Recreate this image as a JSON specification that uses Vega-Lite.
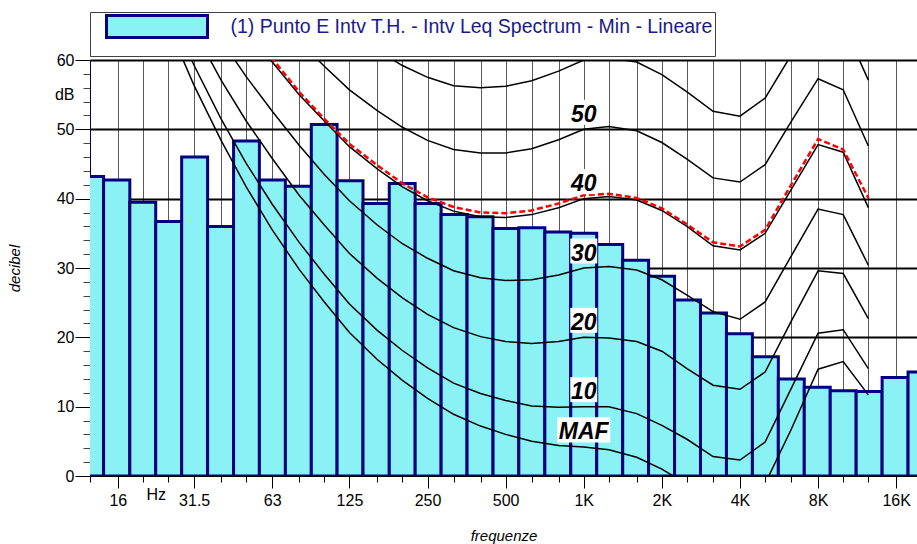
{
  "$schema": "https://vega.github.io/schema/vega-lite/v6.json",
  "width": 827,
  "height": 416,
  "autosize": {"type": "none"},
  "padding": {"left": 90, "top": 60, "right": 0, "bottom": 68},
  "background": "white",
  "config": {"view": {"stroke": null}, "font": "Liberation Sans"},
  "datasets": {
    "spectrum": [
      {"series": "(1) Punto E Intv T.H. - Intv Leq Spectrum - Min - Lineare", "f": 12.5, "lo": 11.2, "hi": 14.1, "leq": 43.2},
      {"series": "(1) Punto E Intv T.H. - Intv Leq Spectrum - Min - Lineare", "f": 16, "lo": 14.1, "hi": 17.8, "leq": 42.7},
      {"series": "(1) Punto E Intv T.H. - Intv Leq Spectrum - Min - Lineare", "f": 20, "lo": 17.8, "hi": 22.4, "leq": 39.5},
      {"series": "(1) Punto E Intv T.H. - Intv Leq Spectrum - Min - Lineare", "f": 25, "lo": 22.4, "hi": 28.2, "leq": 36.7},
      {"series": "(1) Punto E Intv T.H. - Intv Leq Spectrum - Min - Lineare", "f": 31.5, "lo": 28.2, "hi": 35.5, "leq": 46.0},
      {"series": "(1) Punto E Intv T.H. - Intv Leq Spectrum - Min - Lineare", "f": 40, "lo": 35.5, "hi": 44.7, "leq": 36.0},
      {"series": "(1) Punto E Intv T.H. - Intv Leq Spectrum - Min - Lineare", "f": 50, "lo": 44.7, "hi": 56.2, "leq": 48.3},
      {"series": "(1) Punto E Intv T.H. - Intv Leq Spectrum - Min - Lineare", "f": 63, "lo": 56.2, "hi": 70.8, "leq": 42.7},
      {"series": "(1) Punto E Intv T.H. - Intv Leq Spectrum - Min - Lineare", "f": 80, "lo": 70.8, "hi": 89.1, "leq": 41.8},
      {"series": "(1) Punto E Intv T.H. - Intv Leq Spectrum - Min - Lineare", "f": 100, "lo": 89.1, "hi": 112, "leq": 50.7},
      {"series": "(1) Punto E Intv T.H. - Intv Leq Spectrum - Min - Lineare", "f": 125, "lo": 112, "hi": 141, "leq": 42.6},
      {"series": "(1) Punto E Intv T.H. - Intv Leq Spectrum - Min - Lineare", "f": 160, "lo": 141, "hi": 178, "leq": 39.3},
      {"series": "(1) Punto E Intv T.H. - Intv Leq Spectrum - Min - Lineare", "f": 200, "lo": 178, "hi": 224, "leq": 42.2},
      {"series": "(1) Punto E Intv T.H. - Intv Leq Spectrum - Min - Lineare", "f": 250, "lo": 224, "hi": 282, "leq": 39.3},
      {"series": "(1) Punto E Intv T.H. - Intv Leq Spectrum - Min - Lineare", "f": 315, "lo": 282, "hi": 355, "leq": 37.7},
      {"series": "(1) Punto E Intv T.H. - Intv Leq Spectrum - Min - Lineare", "f": 400, "lo": 355, "hi": 447, "leq": 37.4},
      {"series": "(1) Punto E Intv T.H. - Intv Leq Spectrum - Min - Lineare", "f": 500, "lo": 447, "hi": 562, "leq": 35.7},
      {"series": "(1) Punto E Intv T.H. - Intv Leq Spectrum - Min - Lineare", "f": 630, "lo": 562, "hi": 708, "leq": 35.8},
      {"series": "(1) Punto E Intv T.H. - Intv Leq Spectrum - Min - Lineare", "f": 800, "lo": 708, "hi": 891, "leq": 35.2},
      {"series": "(1) Punto E Intv T.H. - Intv Leq Spectrum - Min - Lineare", "f": 1000, "lo": 891, "hi": 1122, "leq": 35.0},
      {"series": "(1) Punto E Intv T.H. - Intv Leq Spectrum - Min - Lineare", "f": 1250, "lo": 1122, "hi": 1413, "leq": 33.4},
      {"series": "(1) Punto E Intv T.H. - Intv Leq Spectrum - Min - Lineare", "f": 1600, "lo": 1413, "hi": 1778, "leq": 31.1},
      {"series": "(1) Punto E Intv T.H. - Intv Leq Spectrum - Min - Lineare", "f": 2000, "lo": 1778, "hi": 2239, "leq": 28.8},
      {"series": "(1) Punto E Intv T.H. - Intv Leq Spectrum - Min - Lineare", "f": 2500, "lo": 2239, "hi": 2818, "leq": 25.4},
      {"series": "(1) Punto E Intv T.H. - Intv Leq Spectrum - Min - Lineare", "f": 3150, "lo": 2818, "hi": 3548, "leq": 23.5},
      {"series": "(1) Punto E Intv T.H. - Intv Leq Spectrum - Min - Lineare", "f": 4000, "lo": 3548, "hi": 4467, "leq": 20.5},
      {"series": "(1) Punto E Intv T.H. - Intv Leq Spectrum - Min - Lineare", "f": 5000, "lo": 4467, "hi": 5623, "leq": 17.2},
      {"series": "(1) Punto E Intv T.H. - Intv Leq Spectrum - Min - Lineare", "f": 6300, "lo": 5623, "hi": 7079, "leq": 14.0},
      {"series": "(1) Punto E Intv T.H. - Intv Leq Spectrum - Min - Lineare", "f": 8000, "lo": 7079, "hi": 8913, "leq": 12.8},
      {"series": "(1) Punto E Intv T.H. - Intv Leq Spectrum - Min - Lineare", "f": 10000, "lo": 8913, "hi": 11220, "leq": 12.3},
      {"series": "(1) Punto E Intv T.H. - Intv Leq Spectrum - Min - Lineare", "f": 12500, "lo": 11220, "hi": 14125, "leq": 12.2},
      {"series": "(1) Punto E Intv T.H. - Intv Leq Spectrum - Min - Lineare", "f": 16000, "lo": 14125, "hi": 17783, "leq": 14.2},
      {"series": "(1) Punto E Intv T.H. - Intv Leq Spectrum - Min - Lineare", "f": 20000, "lo": 17783, "hi": 22387, "leq": 15.0}
    ],
    "contours": [
      {"f": 20, "MAF": 74.3, "p10": 76.8, "p20": 81.3, "p30": 86.0, "p40": 91.0, "p50": 96.2, "p60": 101.7, "Min": 91.5},
      {"f": 25, "MAF": 65.0, "p10": 67.7, "p20": 72.5, "p30": 77.6, "p40": 82.9, "p50": 88.5, "p60": 94.4, "Min": 83.4},
      {"f": 31.5, "MAF": 56.3, "p10": 59.2, "p20": 64.3, "p30": 69.7, "p40": 75.4, "p50": 81.3, "p60": 87.6, "Min": 75.9},
      {"f": 40, "MAF": 48.4, "p10": 51.5, "p20": 57.1, "p30": 62.9, "p40": 69.0, "p50": 75.4, "p60": 82.1, "Min": 69.5},
      {"f": 50, "MAF": 41.7, "p10": 45.1, "p20": 51.2, "p30": 57.6, "p40": 64.3, "p50": 71.3, "p60": 78.6, "Min": 64.8},
      {"f": 63, "MAF": 35.5, "p10": 39.2, "p20": 45.8, "p30": 52.6, "p40": 59.7, "p50": 67.1, "p60": 74.8, "Min": 60.2},
      {"f": 80, "MAF": 29.8, "p10": 33.7, "p20": 40.5, "p30": 47.7, "p40": 55.0, "p50": 62.7, "p60": 70.6, "Min": 55.4},
      {"f": 100, "MAF": 25.1, "p10": 29.1, "p20": 36.2, "p30": 43.5, "p40": 51.2, "p50": 59.1, "p60": 67.3, "Min": 51.5},
      {"f": 125, "MAF": 20.7, "p10": 24.8, "p20": 32.1, "p30": 39.7, "p40": 47.5, "p50": 55.7, "p60": 64.2, "Min": 47.9},
      {"f": 160, "MAF": 16.8, "p10": 21.0, "p20": 28.5, "p30": 36.2, "p40": 44.3, "p50": 52.7, "p60": 61.4, "Min": 44.8},
      {"f": 200, "MAF": 13.8, "p10": 18.1, "p20": 25.7, "p30": 33.5, "p40": 41.7, "p50": 50.3, "p60": 59.2, "Min": 42.2},
      {"f": 250, "MAF": 11.2, "p10": 15.6, "p20": 23.3, "p30": 31.4, "p40": 39.7, "p50": 48.4, "p60": 57.5, "Min": 40.2},
      {"f": 315, "MAF": 8.9, "p10": 13.4, "p20": 21.4, "p30": 29.6, "p40": 38.2, "p50": 47.1, "p60": 56.3, "Min": 38.8},
      {"f": 400, "MAF": 7.2, "p10": 11.9, "p20": 20.1, "p30": 28.6, "p40": 37.4, "p50": 46.6, "p60": 56.0, "Min": 38.0},
      {"f": 500, "MAF": 6.0, "p10": 10.9, "p20": 19.4, "p30": 28.2, "p40": 37.3, "p50": 46.6, "p60": 56.2, "Min": 37.9},
      {"f": 630, "MAF": 5.0, "p10": 10.1, "p20": 19.1, "p30": 28.3, "p40": 37.7, "p50": 47.2, "p60": 57.0, "Min": 38.3},
      {"f": 800, "MAF": 4.4, "p10": 9.9, "p20": 19.4, "p30": 29.0, "p40": 38.7, "p50": 48.5, "p60": 58.4, "Min": 39.3},
      {"f": 1000, "MAF": 4.2, "p10": 10.0, "p20": 20.0, "p30": 30.0, "p40": 40.0, "p50": 50.0, "p60": 60.0, "Min": 40.5},
      {"f": 1250, "MAF": 3.8, "p10": 10.0, "p20": 19.9, "p30": 30.2, "p40": 40.3, "p50": 50.4, "p60": 60.3, "Min": 40.7},
      {"f": 1600, "MAF": 2.7, "p10": 9.0, "p20": 19.4, "p30": 29.7, "p40": 39.8, "p50": 49.8, "p60": 59.7, "Min": 40.1},
      {"f": 2000, "MAF": 1.0, "p10": 7.3, "p20": 18.0, "p30": 28.3, "p40": 38.3, "p50": 48.1, "p60": 57.9, "Min": 38.6},
      {"f": 2500, "MAF": -1.2, "p10": 5.3, "p20": 15.5, "p30": 26.1, "p40": 36.0, "p50": 45.7, "p60": 55.4, "Min": 36.3},
      {"f": 3150, "MAF": -3.6, "p10": 2.8, "p20": 13.1, "p30": 23.7, "p40": 33.2, "p50": 43.0, "p60": 52.6, "Min": 33.7},
      {"f": 4000, "MAF": -3.9, "p10": 2.3, "p20": 12.5, "p30": 22.6, "p40": 32.6, "p50": 42.4, "p60": 51.9, "Min": 33.1},
      {"f": 5000, "MAF": -1.1, "p10": 4.9, "p20": 15.0, "p30": 25.1, "p40": 35.0, "p50": 44.9, "p60": 54.5, "Min": 35.5},
      {"f": 6300, "MAF": 6.7, "p10": 12.6, "p20": 22.3, "p30": 31.7, "p40": 41.3, "p50": 51.1, "p60": 60.7, "Min": 42.0},
      {"f": 8000, "MAF": 15.4, "p10": 20.6, "p20": 29.6, "p30": 38.5, "p40": 47.8, "p50": 57.3, "p60": 66.8, "Min": 48.6},
      {"f": 10000, "MAF": 16.5, "p10": 21.1, "p20": 29.2, "p30": 37.7, "p40": 46.7, "p50": 55.7, "p60": 65.2, "Min": 47.1},
      {"f": 12500, "MAF": 11.7, "p10": 15.5, "p20": 22.7, "p30": 30.4, "p40": 38.7, "p50": 47.6, "p60": 57.1, "Min": 40.1}
    ],
    "labels": [
      {"label": "MAF", "f": 1000, "L": 4.2},
      {"label": "10", "f": 1000, "L": 10},
      {"label": "20", "f": 1000, "L": 20},
      {"label": "30", "f": 1000, "L": 30},
      {"label": "40", "f": 1000, "L": 40},
      {"label": "50", "f": 1000, "L": 50}
    ]
  },
  "layer": [
    {
      "data": {"name": "spectrum"},
      "mark": {"type": "bar", "stroke": "#000080", "strokeWidth": 3, "clip": true},
      "encoding": {
        "x": {
          "field": "lo", "type": "quantitative", "title": "frequenze",
          "scale": {"type": "log", "domain": [12.5, 19250], "nice": false, "padding": 0},
          "axis": {
            "values": [12.5, 16, 20, 22.4, 25, 31.5, 40, 50, 63, 80, 100, 125, 160, 200, 250, 315, 400, 500, 630, 800, 1000, 1250, 1600, 2000, 2500, 3150, 4000, 5000, 6300, 8000, 10000, 12500, 16000],
            "tickCount": 200,
            "labelExpr": "datum.value == 22.4 ? 'Hz' : (indexof([16,31.5,63,125,250,500,1000,2000,4000,8000,16000], datum.value) < 0 ? '' : (datum.value >= 1000 ? (datum.value / 1000) + 'K' : '' + datum.value))",
            "labelFont": "Liberation Sans", "labelFontSize": 16, "labelColor": "black",
            "labelPadding": 4, "labelOverlap": false, "labelFlush": false, "labelBound": false,
            "tickSize": {"condition": {"test": "indexof([16,31.5,63,125,250,500,1000,2000,4000,8000,16000], datum.value) >= 0", "value": 12}, "value": 6},
            "tickColor": "black",
            "tickOpacity": {"condition": {"test": "datum.value == 22.4", "value": 0}, "value": 1},
            "grid": true, "gridColor": "#5a5a5a", "gridWidth": 1,
            "gridOpacity": {"condition": {"test": "datum.value == 22.4", "value": 0}, "value": 1},
            "domainColor": "black", "domainWidth": 1,
            "titleFont": "Liberation Sans", "titleFontSize": 15, "titleFontStyle": "italic", "titleFontWeight": "normal", "titleColor": "black",
            "titleY": 64, "titleBaseline": "alphabetic"
          }
        },
        "x2": {"field": "hi"},
        "y": {
          "field": "leq", "type": "quantitative", "title": "decibel",
          "scale": {"domain": [0, 60], "nice": false, "padding": 0},
          "axis": {
            "values": [0, 2, 4, 6, 8, 10, 12, 14, 16, 18, 20, 22, 24, 26, 28, 30, 32, 34, 36, 38, 40, 42, 44, 46, 48, 50, 52, 54, 55, 56, 58, 60],
            "tickCount": 200,
            "labelExpr": "datum.value == 55 ? 'dB' : (datum.value % 10 == 0 ? '' + datum.value : '')",
            "labelFont": "Liberation Sans", "labelFontSize": 16, "labelColor": "black", "labelPadding": 1,
            "labelOverlap": false, "labelFlush": false, "labelBound": false,
            "tickSize": {"condition": {"test": "datum.value % 10 == 0 || datum.value == 55", "value": 15}, "value": 7},
            "tickColor": {"condition": {"test": "datum.value % 10 == 0", "value": "black"}, "value": "#444444"},
            "tickOpacity": {"condition": {"test": "datum.value == 55", "value": 0}, "value": 1},
            "grid": true, "gridColor": "black", "gridWidth": 2,
            "gridOpacity": {"condition": {"test": "datum.value % 10 == 0 && datum.value > 0", "value": 1}, "value": 0},
            "domainColor": "#000060", "domainWidth": 1,
            "titleFont": "Liberation Sans", "titleFontSize": 15, "titleFontStyle": "italic", "titleFontWeight": "normal", "titleColor": "black",
            "titleX": -71, "titleBaseline": "alphabetic"
          }
        },
        "y2": {"datum": 0},
        "fill": {
          "field": "series",
          "type": "nominal",
          "scale": {"range": ["#8af2f4"]},
          "legend": {
            "orient": "none", "legendX": 0, "legendY": -48,
            "title": "\u00a0", "titleOrient": "bottom", "titleFontSize": 10, "titlePadding": 0,
            "symbolType": "M-4.59,-1H4.59V1H-4.59Z",
            "symbolSize": 484,
            "symbolStrokeWidth": 3, "symbolStrokeColor": "#000080", "symbolFillColor": "#8af2f4",
            "labelFont": "Liberation Sans", "labelFontSize": 19.5, "labelColor": "#1a1a8e",
            "labelLimit": 3000, "labelOffset": 61,
            "labelExpr": "datum.label + '                                                                                                    '",
            "padding": 2, "symbolOffset": 52.5,
            "strokeColor": "#404040", "fillColor": "white"
          }
        }
      }
    },
    {
      "data": {"name": "contours"},
      "transform": [{"fold": ["MAF", "p10", "p20", "p30", "p40", "p50", "p60"], "as": ["curve", "L"]}],
      "mark": {"type": "line", "color": "black", "strokeWidth": 1.5, "clip": true},
      "encoding": {
        "x": {"field": "f", "type": "quantitative", "title": "frequenze"},
        "y": {"field": "L", "type": "quantitative", "title": "decibel"},
        "detail": {"field": "curve"}
      }
    },
    {
      "data": {"name": "contours"},
      "mark": {"type": "line", "color": "#ff0000", "strokeWidth": 2.5, "strokeDash": [6, 3], "clip": true},
      "encoding": {
        "x": {"field": "f", "type": "quantitative", "title": "frequenze"},
        "y": {"field": "Min", "type": "quantitative", "title": "decibel"}
      }
    },
    {
      "data": {"name": "labels"},
      "transform": [{"filter": "datum.label != 'MAF'"}],
      "mark": {"type": "point", "shape": "M-1,-0.926H1V0.926H-1Z", "size": 729, "filled": true, "color": "white", "opacity": 1, "strokeWidth": 0, "yOffset": -17},
      "encoding": {
        "x": {"field": "f", "type": "quantitative", "title": "frequenze"},
        "y": {"field": "L", "type": "quantitative", "title": "decibel"}
      }
    },
    {
      "data": {"name": "labels"},
      "transform": [{"filter": "datum.label == 'MAF'"}],
      "mark": {"type": "point", "shape": "M-1,-0.472H1V0.472H-1Z", "size": 2809, "filled": true, "color": "white", "opacity": 1, "strokeWidth": 0, "yOffset": -17},
      "encoding": {
        "x": {"field": "f", "type": "quantitative", "title": "frequenze"},
        "y": {"field": "L", "type": "quantitative", "title": "decibel"}
      }
    },
    {
      "data": {"name": "labels"},
      "mark": {"type": "text", "font": "Liberation Sans", "fontSize": 23, "fontWeight": "bold", "fontStyle": "italic", "align": "center", "baseline": "alphabetic", "dy": -7.5, "color": "black"},
      "encoding": {
        "x": {"field": "f", "type": "quantitative", "title": "frequenze"},
        "y": {"field": "L", "type": "quantitative", "title": "decibel"},
        "text": {"field": "label"}
      }
    }
  ]
}
